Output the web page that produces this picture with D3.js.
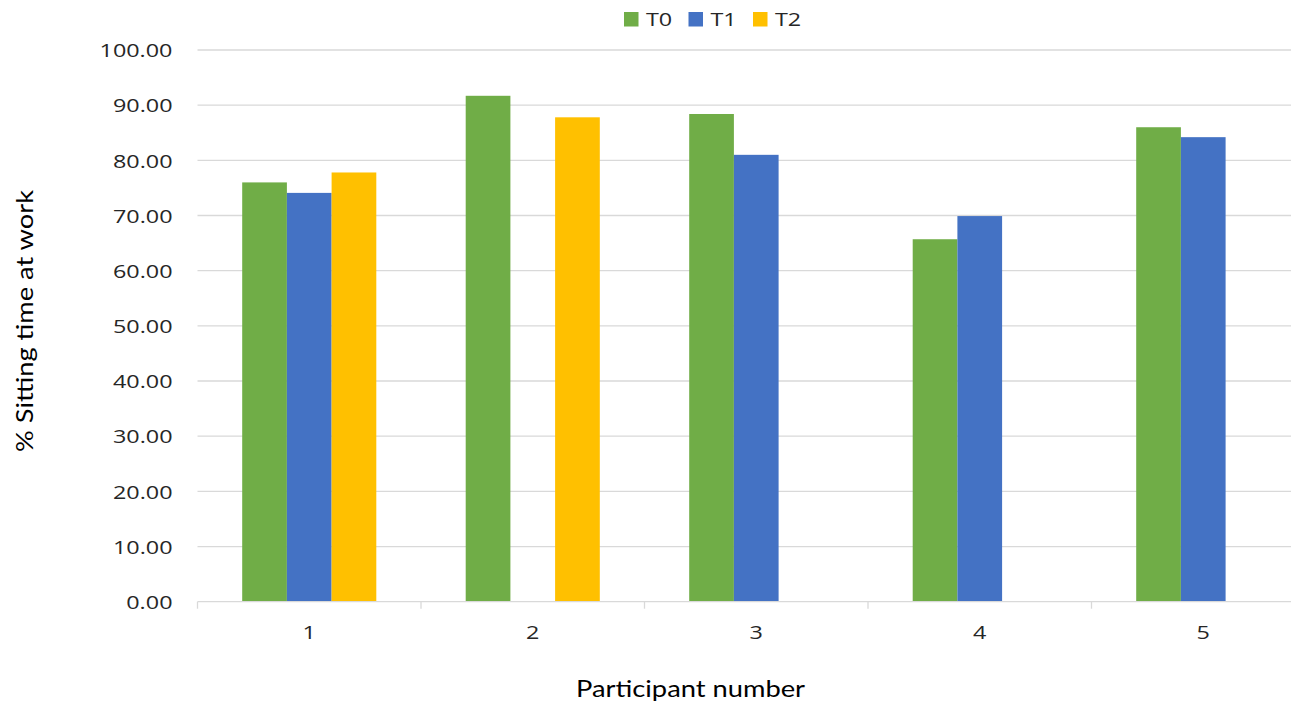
<!DOCTYPE html>
<html><head><meta charset="utf-8">
<script src="https://cdn.jsdelivr.net/npm/d3@7"></script>
<style>body{margin:0;background:#fff}svg{display:block}</style>
</head><body><svg id="c" width="1295" height="706"></svg>
<script>
const categories = ["1","2","3","4","5"];
const seriesNames = ["T0","T1","T2"];
const T0 = [76.0, 91.7, 88.4, 65.7, 86.0];
const T1 = [74.1, null, 81.0, 69.9, 84.2];
const T2 = [77.8, 87.8, null, null, null];
const colors = ["#70ad47","#4472c4","#ffc000"];
const yTicks = [0,10,20,30,40,50,60,70,80,90,100];

(function(){
const svg = d3.select("#c");
const pLeft = 197.5, pRight = 1315, pTop = 50, pBottom = 601.7, gridRight = 1291;
const x = d3.scaleBand().domain(categories).range([pLeft, pRight]).paddingInner(0).paddingOuter(0);
const y = d3.scaleLinear().domain([0,100]).range([pBottom, pTop]);
const bw = x.bandwidth()/5;
const xs = d3.scaleBand().domain(seriesNames).range([bw, bw*4]);
const FONT = "Open Sans, sans-serif";

// measure horizontal stretch for the label font
const probe = svg.append("text").attr("font-family",FONT).attr("font-size",18).text("100.00");
const sx = 73 / probe.node().getComputedTextLength();
probe.remove();

// gridlines
svg.append("g").selectAll("line").data(yTicks.filter(d=>d>0)).join("line")
  .attr("x1", pLeft).attr("x2", gridRight)
  .attr("y1", d=>y(d)).attr("y2", d=>y(d))
  .attr("stroke","#d9d9d9").attr("stroke-width",1.3);

// bars
const data = [T0,T1,T2];
const g = svg.append("g");
seriesNames.forEach((s,i)=>{
  g.append("g").selectAll("rect").data(categories.map((c,j)=>({c,v:data[i][j]})).filter(d=>d.v!=null))
    .join("rect")
    .attr("x", d=>x(d.c)+xs(s))
    .attr("width", xs.bandwidth())
    .attr("y", d=>y(d.v))
    .attr("height", d=>y(0)-y(d.v))
    .attr("fill", colors[i]);
});

// x axis line and ticks
svg.append("line").attr("x1",pLeft).attr("x2",gridRight).attr("y1",y(0)).attr("y2",y(0))
  .attr("stroke","#d9d9d9").attr("stroke-width",1.3);
const bounds = categories.map(c=>x(c)).filter(v=>v<=gridRight);
svg.append("g").selectAll("line").data(bounds).join("line")
  .attr("x1",d=>d).attr("x2",d=>d).attr("y1",y(0)).attr("y2",y(0)+7)
  .attr("stroke","#d9d9d9").attr("stroke-width",1.3);

// x tick labels
svg.append("g").selectAll("text").data(categories).join("text")
  .attr("transform", d=>`translate(${x(d)+x.bandwidth()/2},639) scale(${sx},1)`)
  .attr("text-anchor","middle").attr("font-family",FONT)
  .attr("font-size",18).attr("fill","#262626").text(d=>d);

// y tick labels
svg.append("g").selectAll("text").data(yTicks).join("text")
  .attr("transform", d=>`translate(172.5,${y(d)+7.3}) scale(${sx},1)`)
  .attr("text-anchor","end").attr("font-family",FONT)
  .attr("font-size",18).attr("fill","#262626").text(d=>d3.format(".2f")(d));

// axis titles
svg.append("text").attr("x",690.5).attr("y",696.5).attr("text-anchor","middle")
  .attr("font-family","Lato, sans-serif").attr("font-size",23).attr("fill","#000")
  .attr("textLength",229).attr("lengthAdjust","spacingAndGlyphs")
  .text("Participant number");
svg.append("text").attr("transform","translate(32.5,321) rotate(-90)").attr("text-anchor","middle")
  .attr("font-family","Lato, sans-serif").attr("font-size",23).attr("fill","#000")
  .attr("textLength",262).attr("lengthAdjust","spacingAndGlyphs")
  .text("% Sitting time at work");

// legend
const legX = [624, 688.5, 753];
const leg = svg.append("g");
seriesNames.forEach((s,i)=>{
  leg.append("rect").attr("x",legX[i]).attr("y",12).attr("width",14.5).attr("height",14.5).attr("fill",colors[i]);
  leg.append("text").attr("transform",`translate(${legX[i]+22},25.8) scale(${sx},1)`)
    .attr("font-family",FONT).attr("font-size",18).attr("fill","#262626").text(s);
});
})();
</script></body></html>
